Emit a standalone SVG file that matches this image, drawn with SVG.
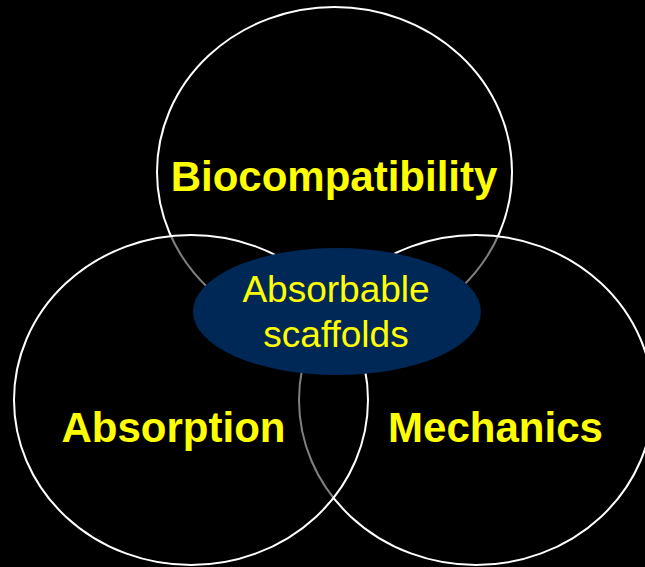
<svg xmlns="http://www.w3.org/2000/svg" width="645" height="567" viewBox="0 0 645 567">
<style>
.c{fill:#000;fill-opacity:0.5;stroke:#fff;stroke-width:2}
.lbl{font-family:"Liberation Sans",Arial,sans-serif;font-weight:bold;font-size:42px;fill:#ffff00;text-anchor:middle}
.mid{font-family:"Liberation Sans",Arial,sans-serif;font-size:37px;fill:#ffff00;text-anchor:middle}
</style>
<rect width="645" height="567" fill="#000"/>
<g id="biocompatibility">
<ellipse class="c" cx="334.5" cy="172" rx="177.5" ry="165"/>
<text class="lbl" x="334" y="191">Biocompatibility</text>
</g>
<g id="mechanics">
<ellipse class="c" cx="476" cy="400" rx="177" ry="165"/>
<text class="lbl" x="495.5" y="442">Mechanics</text>
</g>
<g id="absorption">
<ellipse class="c" cx="191" cy="400" rx="177" ry="165"/>
<text class="lbl" x="173.5" y="442">Absorption</text>
</g>
<g id="connectors"/>
<g id="scaffolds">
<ellipse cx="337" cy="311.5" rx="144" ry="63.5" fill="#002856"/>
<text class="mid" x="336" y="302">Absorbable</text>
<text class="mid" x="336" y="347">scaffolds</text>
</g>
</svg>
